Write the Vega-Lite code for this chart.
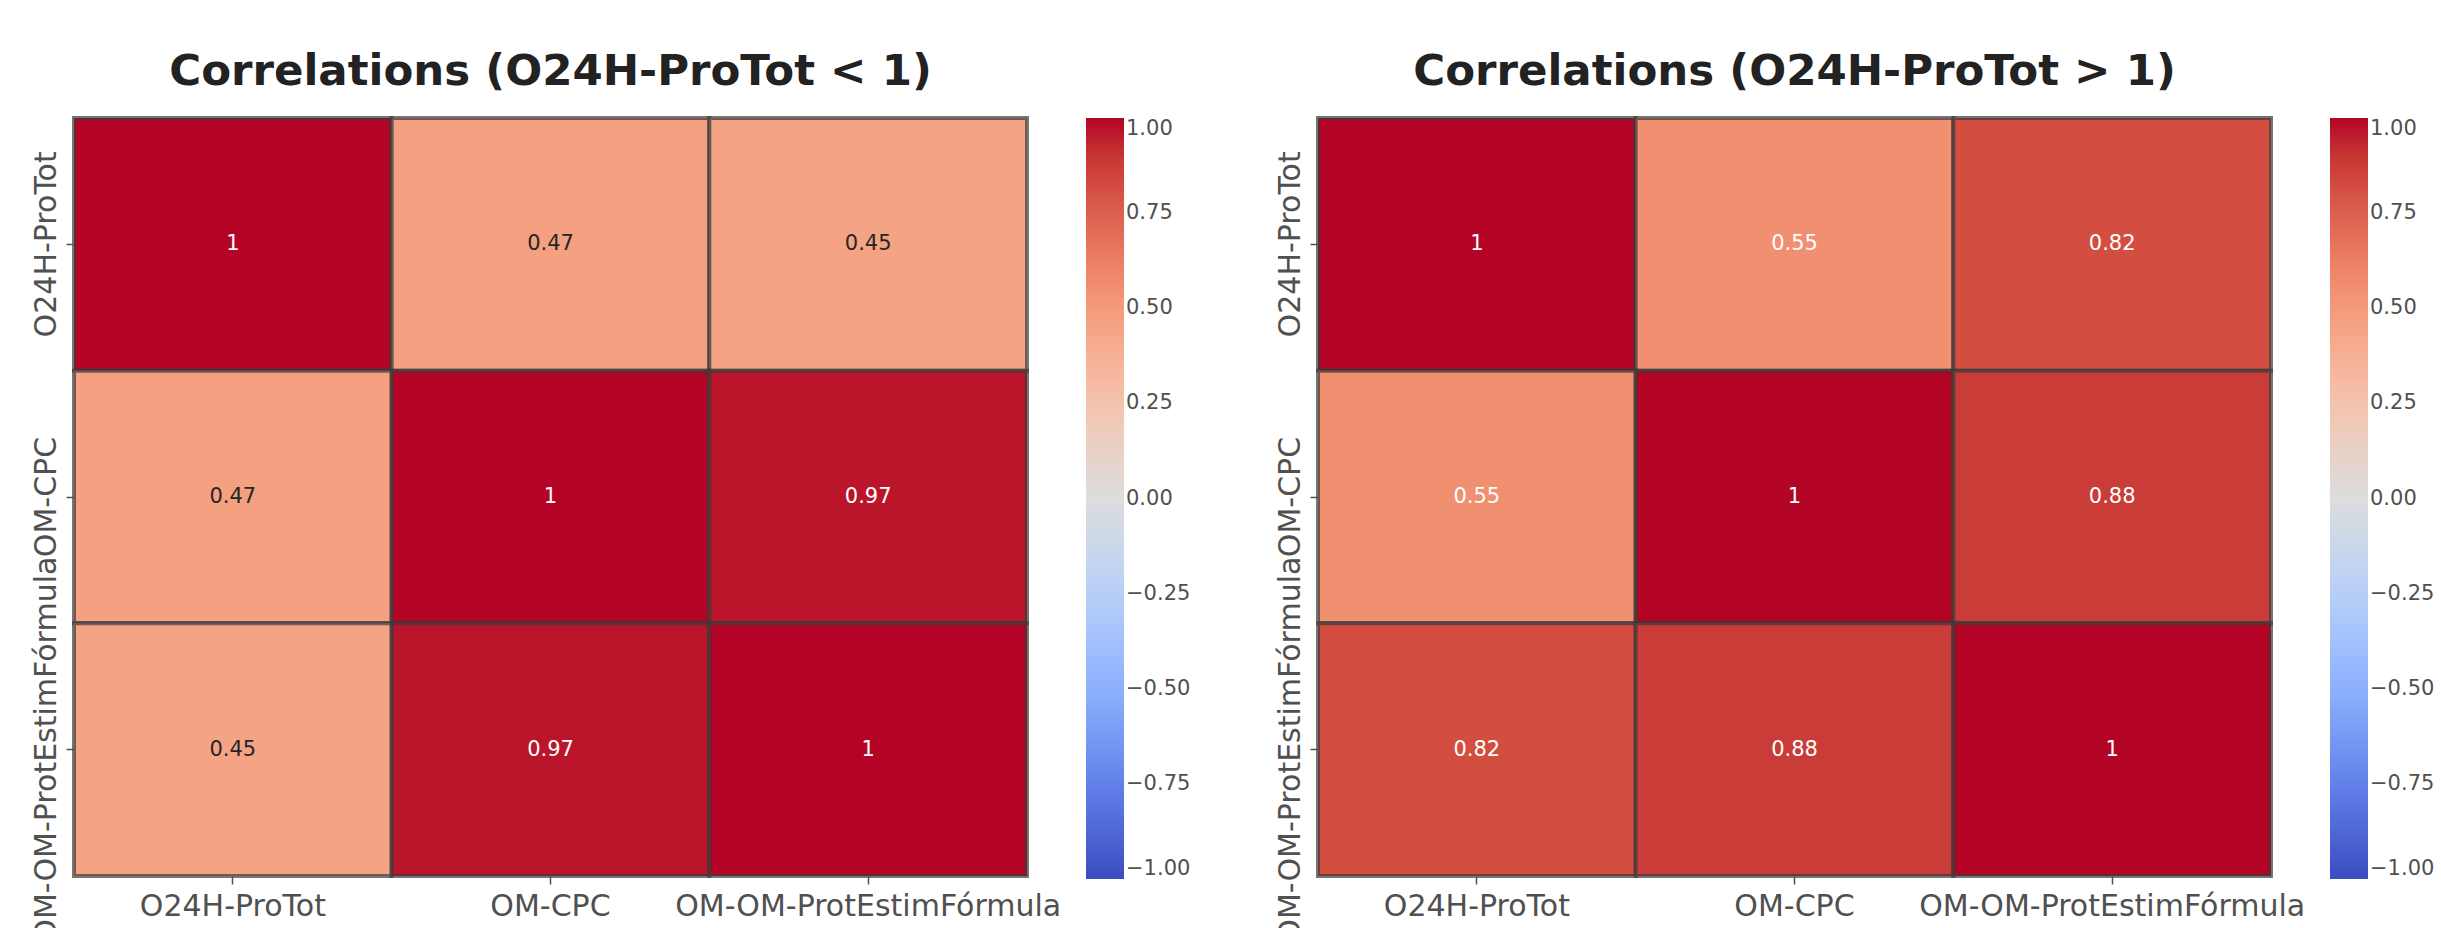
{
  "$schema": "https://vega.github.io/schema/vega-lite/v6.json",
  "background": "white",
  "padding": {"left": 30, "top": 49, "right": 0, "bottom": 0},
  "datasets": {
    "lt1": [
      {"row": "O24H-ProTot", "col": "O24H-ProTot", "value": 1},
      {"row": "O24H-ProTot", "col": "OM-CPC", "value": 0.47},
      {"row": "O24H-ProTot", "col": "OM-OM-ProtEstimFórmula", "value": 0.45},
      {"row": "OM-CPC", "col": "O24H-ProTot", "value": 0.47},
      {"row": "OM-CPC", "col": "OM-CPC", "value": 1},
      {"row": "OM-CPC", "col": "OM-OM-ProtEstimFórmula", "value": 0.97},
      {"row": "OM-OM-ProtEstimFórmula", "col": "O24H-ProTot", "value": 0.45},
      {"row": "OM-OM-ProtEstimFórmula", "col": "OM-CPC", "value": 0.97},
      {"row": "OM-OM-ProtEstimFórmula", "col": "OM-OM-ProtEstimFórmula", "value": 1}
    ],
    "gt1": [
      {"row": "O24H-ProTot", "col": "O24H-ProTot", "value": 1},
      {"row": "O24H-ProTot", "col": "OM-CPC", "value": 0.55},
      {"row": "O24H-ProTot", "col": "OM-OM-ProtEstimFórmula", "value": 0.82},
      {"row": "OM-CPC", "col": "O24H-ProTot", "value": 0.55},
      {"row": "OM-CPC", "col": "OM-CPC", "value": 1},
      {"row": "OM-CPC", "col": "OM-OM-ProtEstimFórmula", "value": 0.88},
      {"row": "OM-OM-ProtEstimFórmula", "col": "O24H-ProTot", "value": 0.82},
      {"row": "OM-OM-ProtEstimFórmula", "col": "OM-CPC", "value": 0.88},
      {"row": "OM-OM-ProtEstimFórmula", "col": "OM-OM-ProtEstimFórmula", "value": 1}
    ]
  },
  "config": {
    "view": {"stroke": null},
    "font": "DejaVu Sans",
    "title": {"font": "DejaVu Sans", "fontSize": 43.5, "fontWeight": "bold", "color": "#222222", "anchor": "middle", "frame": "group", "baseline": "alphabetic", "offset": 22},
    "axis": {"labelFont": "DejaVu Sans", "labelFontSize": 30, "labelColor": "#505050", "tickColor": "#505050", "tickSize": 8, "tickWidth": 1.5, "domain": false, "grid": false, "title": null},
    "legend": {"orient": "right", "offset": 59, "padding": 0, "gradientLength": 761, "gradientThickness": 38, "gradientStrokeWidth": 0, "labelFont": "DejaVu Sans", "labelFontSize": 21, "labelColor": "#505050", "labelOffset": 17, "labelBaseline": "middle", "direction": "vertical"},
    "scale": {"bandPaddingInner": 0, "bandPaddingOuter": 0},
    "concat": {"spacing": 83}
  },
  "resolve": {"scale": {"color": "independent", "x": "independent", "y": "independent"}, "legend": {"color": "independent"}},
  "hconcat": [
    {
      "title": {"text": "Correlations (O24H-ProTot < 1)"},
      "width": 953,
      "height": 758,
      "data": {"name": "lt1"},
      "encoding": {
        "x": {"field": "col", "type": "nominal", "sort": ["O24H-ProTot", "OM-CPC", "OM-OM-ProtEstimFórmula"], "axis": {"labelAngle": 0, "labelPadding": 7, "labelLimit": 0}},
        "y": {"field": "row", "type": "nominal", "sort": ["O24H-ProTot", "OM-CPC", "OM-OM-ProtEstimFórmula"], "axis": {"labelAngle": -90, "labelAlign": "center", "labelBaseline": "bottom", "labelOverlap": false, "labelLimit": 0, "labelPadding": 5}}
      },
      "layer": [
        {
          "mark": {"type": "rect", "stroke": "#3a3a3a", "strokeOpacity": 0.7, "strokeWidth": 4},
          "encoding": {
            "color": {"field": "value", "type": "quantitative",
              "scale": {"domain": [-1, -0.75, -0.5, -0.25, 0, 0.25, 0.375, 0.5, 0.625, 0.75, 0.875, 0.9375, 1],
                        "range": ["#3b4cc0", "#6282ea", "#8db0fe", "#b8d0f9", "#dddddd", "#f5c4ad", "#f7b194", "#f49a7b", "#ec7f63", "#de604d", "#cb3e38", "#c0282f", "#b40426"],
                        "interpolate": "rgb"},
              "legend": {"title": null, "values": [1, 0.75, 0.5, 0.25, 0, -0.25, -0.5, -0.75, -1], "format": ".2f"}}
          }
        },
        {
          "mark": {"type": "text", "fontSize": 21, "font": "DejaVu Sans", "baseline": "middle"},
          "encoding": {
            "text": {"field": "value", "type": "quantitative", "format": ".2~g"},
            "color": {"condition": {"test": "datum.value > 0.5", "value": "#ffffff"}, "value": "#262626"}
          }
        }
      ]
    },
    {
      "title": {"text": "Correlations (O24H-ProTot > 1)"},
      "width": 953,
      "height": 758,
      "data": {"name": "gt1"},
      "encoding": {
        "x": {"field": "col", "type": "nominal", "sort": ["O24H-ProTot", "OM-CPC", "OM-OM-ProtEstimFórmula"], "axis": {"labelAngle": 0, "labelPadding": 7, "labelLimit": 0}},
        "y": {"field": "row", "type": "nominal", "sort": ["O24H-ProTot", "OM-CPC", "OM-OM-ProtEstimFórmula"], "axis": {"labelAngle": -90, "labelAlign": "center", "labelBaseline": "bottom", "labelOverlap": false, "labelLimit": 0, "labelPadding": 5}}
      },
      "layer": [
        {
          "mark": {"type": "rect", "stroke": "#3a3a3a", "strokeOpacity": 0.7, "strokeWidth": 4},
          "encoding": {
            "color": {"field": "value", "type": "quantitative",
              "scale": {"domain": [-1, -0.75, -0.5, -0.25, 0, 0.25, 0.375, 0.5, 0.625, 0.75, 0.875, 0.9375, 1],
                        "range": ["#3b4cc0", "#6282ea", "#8db0fe", "#b8d0f9", "#dddddd", "#f5c4ad", "#f7b194", "#f49a7b", "#ec7f63", "#de604d", "#cb3e38", "#c0282f", "#b40426"],
                        "interpolate": "rgb"},
              "legend": {"title": null, "values": [1, 0.75, 0.5, 0.25, 0, -0.25, -0.5, -0.75, -1], "format": ".2f"}}
          }
        },
        {
          "mark": {"type": "text", "fontSize": 21, "font": "DejaVu Sans", "baseline": "middle"},
          "encoding": {
            "text": {"field": "value", "type": "quantitative", "format": ".2~g"},
            "color": {"condition": {"test": "datum.value > 0.5", "value": "#ffffff"}, "value": "#262626"}
          }
        }
      ]
    }
  ]
}
